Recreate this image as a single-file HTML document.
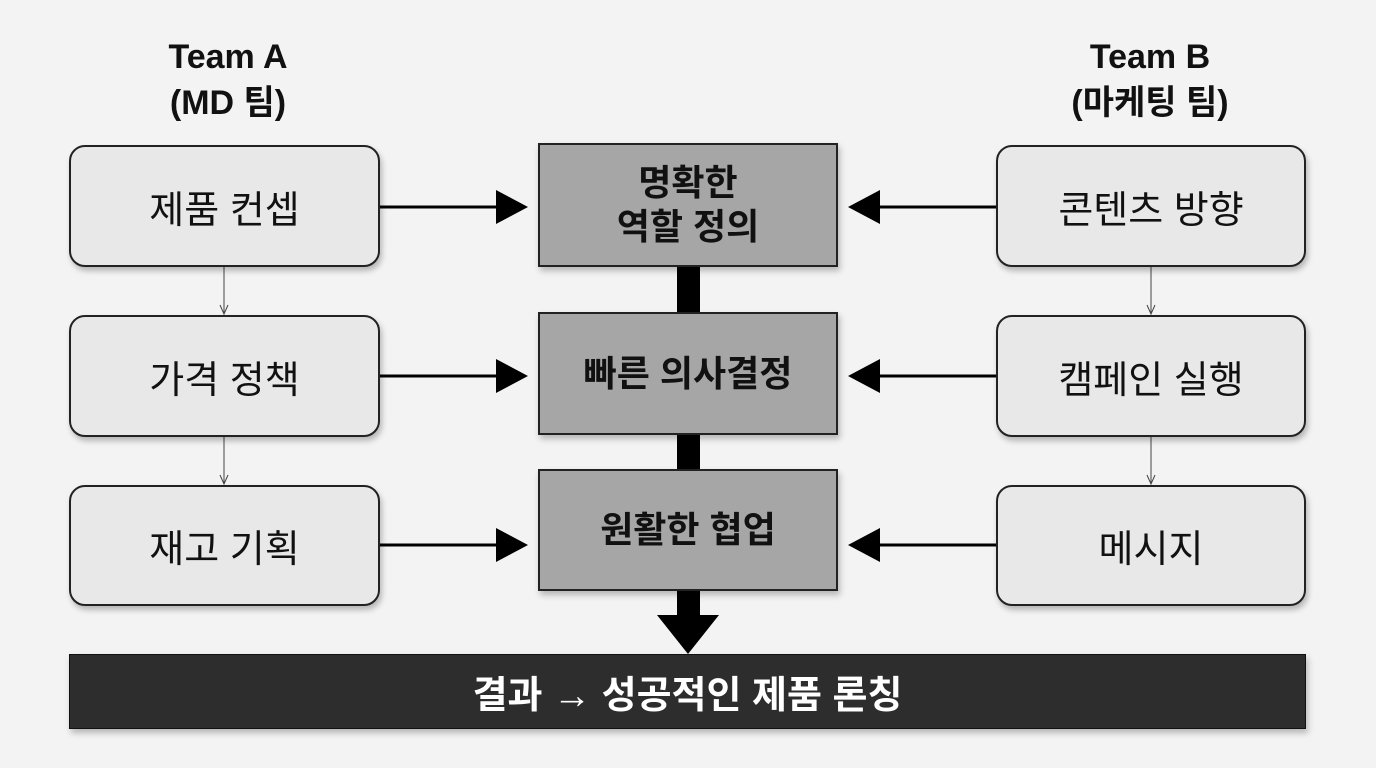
<!DOCTYPE html>
<html><head><meta charset="utf-8"><style>
body{margin:0;width:1376px;height:768px;background:#f3f3f3;position:relative;overflow:hidden;font-family:"Liberation Sans","Noto Sans CJK KR",sans-serif}
.h{position:absolute;width:300px;text-align:center;font-weight:bold;font-size:34px;line-height:46px;color:#111}
.b{position:absolute;box-sizing:border-box;border:2px solid #222;border-radius:16px;background:#e8e8e8;display:flex;align-items:center;justify-content:center;font-size:38px;color:#111;box-shadow:2px 4px 6px rgba(0,0,0,.25)}
.c{position:absolute;box-sizing:border-box;border:2px solid #222;background:#a6a6a6;display:flex;align-items:center;justify-content:center;text-align:center;font-size:36px;font-weight:bold;line-height:44px;color:#111;box-shadow:2px 4px 6px rgba(0,0,0,.25)}
</style></head><body>
<div class="h" style="left:78px;top:34px">Team A<br>(MD 팀)</div>
<div class="h" style="left:1000px;top:34px">Team B<br>(마케팅 팀)</div>
<svg style="position:absolute;left:0;top:0" width="1376" height="768">
<rect x="677" y="262" width="23" height="56" fill="#000"/>
<rect x="677" y="430" width="23" height="44" fill="#000"/>
<rect x="677" y="588" width="23" height="30" fill="#000"/>
<polygon points="657,615 719,615 688,654" fill="#000"/>
<g stroke="#000" stroke-width="3">
<line x1="380" y1="207" x2="500" y2="207"/><line x1="380" y1="376" x2="500" y2="376"/><line x1="380" y1="545" x2="500" y2="545"/>
<line x1="876" y1="207" x2="996" y2="207"/><line x1="876" y1="376" x2="996" y2="376"/><line x1="876" y1="545" x2="996" y2="545"/>
</g>
<g fill="#000">
<polygon points="496,190 528,207 496,224"/><polygon points="496,359 528,376 496,393"/><polygon points="496,528 528,545 496,562"/>
<polygon points="880,190 848,207 880,224"/><polygon points="880,359 848,376 880,393"/><polygon points="880,528 848,545 880,562"/>
</g>
<g stroke="#444" stroke-width="1" fill="none">
<line x1="224" y1="267" x2="224" y2="314"/><polyline points="220,305 224,314 228,305"/>
<line x1="224" y1="437" x2="224" y2="484"/><polyline points="220,475 224,484 228,475"/>
<line x1="1151" y1="267" x2="1151" y2="314"/><polyline points="1147,305 1151,314 1155,305"/>
<line x1="1151" y1="437" x2="1151" y2="484"/><polyline points="1147,475 1151,484 1155,475"/>
</g>
</svg>
<div class="b" style="left:69px;top:145px;width:311px;height:122px">제품 컨셉</div>
<div class="b" style="left:69px;top:315px;width:311px;height:122px">가격 정책</div>
<div class="b" style="left:69px;top:485px;width:311px;height:121px">재고 기획</div>
<div class="b" style="left:996px;top:145px;width:310px;height:122px">콘텐츠 방향</div>
<div class="b" style="left:996px;top:315px;width:310px;height:122px">캠페인 실행</div>
<div class="b" style="left:996px;top:485px;width:310px;height:121px">메시지</div>
<div class="c" style="left:538px;top:143px;width:300px;height:124px">명확한<br>역할 정의</div>
<div class="c" style="left:538px;top:312px;width:300px;height:123px">빠른 의사결정</div>
<div class="c" style="left:538px;top:469px;width:300px;height:122px">원활한 협업</div>
<div style="position:absolute;left:69px;top:654px;width:1237px;height:75px;background:#2d2d2d;border:1px solid #111;box-sizing:border-box;color:#fff;font-weight:bold;font-size:38px;display:flex;align-items:center;justify-content:center;box-shadow:2px 4px 6px rgba(0,0,0,.25)">결과 → 성공적인 제품 론칭</div>
</body></html>
